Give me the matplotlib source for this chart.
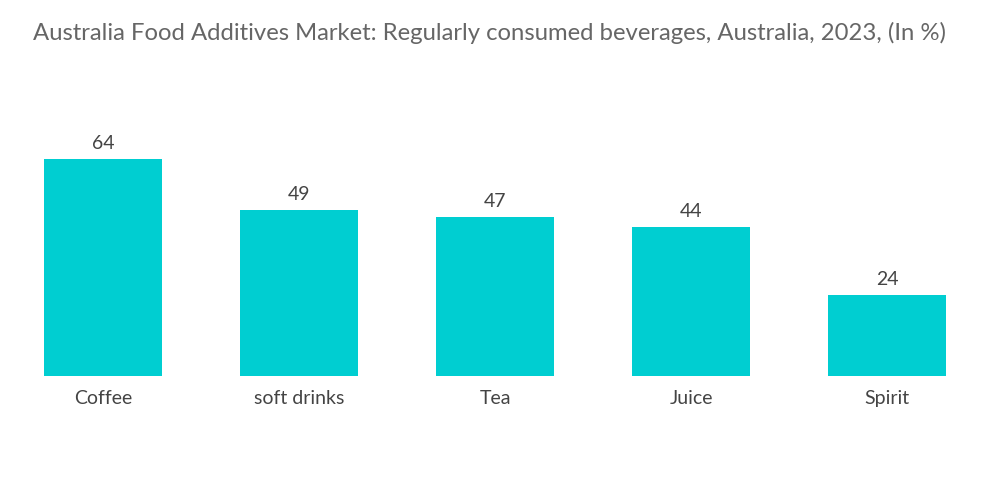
import matplotlib
matplotlib.use("Agg")
import matplotlib.pyplot as plt

plt.rcParams['font.family'] = ['Lato', 'DejaVu Sans']

categories = ["Coffee", "soft drinks", "Tea", "Juice", "Spirit"]
values = [64, 49, 47, 44, 24]
title = "Australia Food Additives Market: Regularly consumed beverages, Australia, 2023, (In %)"

fig = plt.figure(figsize=(10, 5.04), dpi=100)
ax = fig.add_axes([0.005, 0.254, 0.98, 0.538])

x = range(len(categories))
bars = ax.bar(x, values, width=0.6, color="#00CED1")
for b, v in zip(bars, values):
    ax.text(b.get_x() + b.get_width() / 2, v + 2, str(v), ha="center", va="bottom",
            fontsize=14, color="#444444")

ax.set_xlim(-0.5, 4.5)
ax.set_ylim(0, 80)
ax.set_xticks(list(x))
ax.set_xticklabels(categories, fontsize=14, color="#444444")
ax.tick_params(axis="x", length=0, pad=10)
ax.set_yticks([])
for s in ax.spines.values():
    s.set_visible(False)

fig.text(0.033, 0.935, title, fontsize=17.2, color="#666666", ha="left", va="center")

fig.savefig("out.png", dpi=100)
